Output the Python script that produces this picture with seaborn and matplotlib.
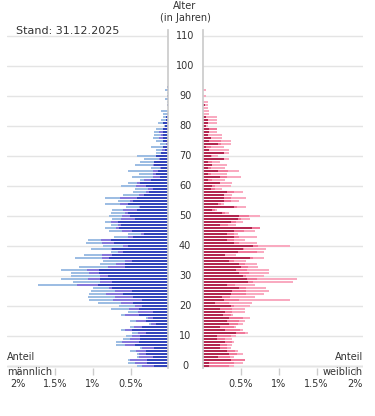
import matplotlib
matplotlib.use("Agg")
import matplotlib.pyplot as plt
import matplotlib.transforms as mtransforms
import seaborn as sns
import pandas as pd

sns.set_theme(style="white")
plt.rcParams['font.family'] = ['DejaVu Sans']

# ---------------- data (share in % per single year of age) ----------------
# male: inner (dark), middle (cumulative), outer/total (cumulative)
male_inner = [
    0.19, 0.28, 0.28, 0.20, 0.29, 0.29, 0.19, 0.44, 0.39, 0.37,
    0.37, 0.29, 0.48, 0.35, 0.16, 0.29, 0.20, 0.39, 0.20, 0.39,
    0.35, 0.47, 0.35, 0.47, 0.60, 0.48, 0.75, 0.93, 0.75, 0.91,
    0.80, 0.92, 0.92, 0.57, 0.57, 0.48, 0.79, 0.75, 0.60, 0.75,
    0.53, 0.72, 0.76, 0.47, 0.32, 0.48, 0.65, 0.63, 0.67, 0.44,
    0.51, 0.53, 0.41, 0.37, 0.53, 0.47, 0.41, 0.32, 0.25, 0.20,
    0.29, 0.37, 0.23, 0.11, 0.16, 0.13, 0.09, 0.19, 0.19, 0.11,
    0.16, 0.09, 0.04, 0.07, 0.01, 0.07, 0.07, 0.07, 0.07, 0.07,
    0.04, 0.07, 0.03, 0.03, 0.01, 0.00, 0.00, 0.01, 0.00, 0.01,
    0.01, 0.00, 0.01, 0.01, 0.00, 0.00]
male_middle = [
    0.35, 0.44, 0.51, 0.39, 0.39, 0.43, 0.35, 0.57, 0.61, 0.51,
    0.48, 0.40, 0.57, 0.45, 0.23, 0.43, 0.27, 0.57, 0.40, 0.52,
    0.44, 0.63, 0.73, 0.71, 0.83, 0.71, 0.79, 1.21, 0.91, 1.07,
    0.91, 1.05, 1.08, 0.80, 0.69, 0.57, 0.88, 0.88, 0.67, 0.76,
    0.60, 0.88, 0.89, 0.53, 0.36, 0.61, 0.69, 0.67, 0.76, 0.63,
    0.61, 0.57, 0.60, 0.39, 0.64, 0.51, 0.64, 0.39, 0.29, 0.27,
    0.43, 0.41, 0.32, 0.20, 0.20, 0.20, 0.11, 0.20, 0.19, 0.12,
    0.16, 0.09, 0.08, 0.07, 0.03, 0.07, 0.12, 0.09, 0.12, 0.07,
    0.04, 0.07, 0.03, 0.03, 0.01, 0.00, 0.00, 0.01, 0.00, 0.01,
    0.01, 0.00, 0.01, 0.01, 0.00, 0.00]
male_total = [
    0.41, 0.53, 0.53, 0.41, 0.41, 0.51, 0.37, 0.69, 0.69, 0.60,
    0.56, 0.48, 0.63, 0.51, 0.25, 0.51, 0.29, 0.63, 0.53, 0.76,
    0.65, 0.93, 1.05, 1.07, 1.05, 1.03, 1.00, 1.73, 1.27, 1.43,
    1.29, 1.29, 1.43, 1.19, 0.91, 0.87, 1.24, 1.12, 0.76, 1.03,
    0.87, 1.09, 1.07, 0.72, 0.53, 0.79, 0.84, 0.76, 0.84, 0.75,
    0.79, 0.76, 0.75, 0.56, 0.84, 0.67, 0.84, 0.60, 0.47, 0.44,
    0.63, 0.53, 0.37, 0.48, 0.39, 0.53, 0.23, 0.44, 0.37, 0.32,
    0.41, 0.16, 0.16, 0.23, 0.11, 0.16, 0.20, 0.19, 0.19, 0.16,
    0.05, 0.13, 0.09, 0.07, 0.07, 0.09, 0.00, 0.01, 0.01, 0.04,
    0.01, 0.01, 0.04, 0.01, 0.00, 0.00]

# female: inner (dark), middle (cumulative), outer/total (cumulative)
female_inner = [
    0.09, 0.09, 0.37, 0.20, 0.35, 0.32, 0.23, 0.23, 0.29, 0.19,
    0.19, 0.44, 0.29, 0.23, 0.35, 0.32, 0.35, 0.27, 0.29, 0.23,
    0.37, 0.16, 0.28, 0.25, 0.37, 0.39, 0.48, 0.32, 0.60, 0.59,
    0.53, 0.48, 0.44, 0.51, 0.48, 0.35, 0.63, 0.29, 0.47, 0.53,
    0.67, 0.41, 0.32, 0.41, 0.32, 0.41, 0.65, 0.23, 0.37, 0.47,
    0.48, 0.25, 0.13, 0.41, 0.20, 0.28, 0.28, 0.28, 0.32, 0.11,
    0.13, 0.23, 0.07, 0.23, 0.07, 0.20, 0.07, 0.13, 0.07, 0.28,
    0.11, 0.28, 0.09, 0.04, 0.20, 0.09, 0.11, 0.07, 0.09, 0.09,
    0.04, 0.07, 0.07, 0.04, 0.00, 0.00, 0.00, 0.03, 0.01, 0.00,
    0.00, 0.00, 0.00, 0.01, 0.00, 0.01]
female_middle = [
    0.35, 0.41, 0.56, 0.36, 0.45, 0.43, 0.32, 0.32, 0.39, 0.29,
    0.37, 0.56, 0.49, 0.41, 0.47, 0.48, 0.53, 0.37, 0.39, 0.39,
    0.41, 0.35, 0.48, 0.36, 0.57, 0.57, 0.57, 0.43, 0.67, 0.72,
    0.57, 0.61, 0.59, 0.60, 0.56, 0.41, 0.67, 0.29, 0.72, 0.55,
    0.73, 0.48, 0.41, 0.48, 0.41, 0.55, 0.76, 0.33, 0.44, 0.51,
    0.61, 0.29, 0.17, 0.45, 0.24, 0.37, 0.37, 0.28, 0.41, 0.17,
    0.17, 0.23, 0.13, 0.32, 0.11, 0.33, 0.11, 0.13, 0.13, 0.28,
    0.13, 0.28, 0.09, 0.11, 0.24, 0.24, 0.11, 0.07, 0.09, 0.19,
    0.04, 0.07, 0.07, 0.04, 0.00, 0.00, 0.00, 0.03, 0.01, 0.00,
    0.00, 0.00, 0.00, 0.01, 0.00, 0.01]
female_total = [
    0.41, 0.53, 0.56, 0.41, 0.53, 0.47, 0.37, 0.39, 0.41, 0.39,
    0.44, 0.60, 0.53, 0.44, 0.53, 0.56, 0.63, 0.40, 0.56, 0.56,
    0.63, 0.65, 1.15, 0.69, 0.81, 0.88, 0.84, 0.69, 1.19, 1.24,
    0.81, 0.88, 0.88, 0.73, 0.72, 0.57, 0.81, 0.44, 0.81, 0.84,
    1.15, 0.72, 0.56, 0.72, 0.47, 0.69, 0.76, 0.44, 0.53, 0.63,
    0.76, 0.35, 0.19, 0.57, 0.28, 0.48, 0.57, 0.39, 0.53, 0.25,
    0.37, 0.39, 0.29, 0.51, 0.32, 0.48, 0.29, 0.32, 0.23, 0.35,
    0.20, 0.35, 0.35, 0.28, 0.37, 0.37, 0.25, 0.25, 0.19, 0.19,
    0.07, 0.19, 0.19, 0.19, 0.09, 0.09, 0.07, 0.07, 0.07, 0.00,
    0.04, 0.00, 0.04, 0.01, 0.00, 0.01]

ages = list(range(len(male_total)))
age_ticks = [0, 10, 20, 30, 40, 50, 60, 70, 80, 90, 100, 110]
x_ticks = [0.5, 1, 1.5, 2]
x_tick_labels = ["0.5%", "1%", "1.5%", "2%"]

male_colors = ["#9dbde3", "#8577dc", "#3344bb"]
female_colors = ["#f9aac0", "#f0789a", "#b3264f"]

df_m = pd.DataFrame({"age": ages, "total": male_total,
                     "middle": male_middle, "inner": male_inner})
df_f = pd.DataFrame({"age": ages, "total": female_total,
                     "middle": female_middle, "inner": female_inner})

W, H = 375, 416
fig = plt.figure(figsize=(W / 100, H / 100), dpi=100)
fig.patch.set_facecolor("white")

y_top_px, y_bot_px = 30, 367.5
ax_b = (H - y_bot_px) / H
ax_h = (y_bot_px - y_top_px) / H
axL = fig.add_axes([7 / W, ax_b, 161 / W, ax_h])
axR = fig.add_axes([202.5 / W, ax_b, 160.5 / W, ax_h])

text_c = "#333333"
grid_c = "#e4e4e4"
line_c = "#cccccc"

for ax, df, cols in [(axL, df_m, male_colors), (axR, df_f, female_colors)]:
    for col, c in zip(["total", "middle", "inner"], cols):
        sns.barplot(data=df, x=col, y="age", orient="y", native_scale=True,
                    color=c, saturation=1, width=0.7, linewidth=0,
                    edgecolor="none", errorbar=None, ax=ax)
    ax.set_ylim(-0.5, 112)
    ax.set_yticks(age_ticks)
    ax.yaxis.grid(True, color=grid_c, lw=1)
    ax.xaxis.grid(False)
    ax.set_axisbelow(True)
    ax.axhline(0, color=line_c, lw=1, zorder=0.5)
    ax.tick_params(axis="y", length=0, labelleft=False, labelright=False)
    ax.set_xticks(x_ticks)
    ax.set_xticklabels(x_tick_labels)
    ax.tick_params(axis="x", bottom=True, length=5, width=1, color=line_c,
                   labelsize=7, labelcolor=text_c, pad=3)
    ax.set_xlabel("")
    ax.set_ylabel("")
    for s in ax.spines.values():
        s.set_visible(False)
    ax.set_facecolor("none")

axL.set_xlim(161 / 75, 0)
axR.set_xlim(0, 160.5 / 76)
axL.spines["right"].set_visible(True)
axL.spines["right"].set_color(line_c)
axR.spines["left"].set_visible(True)
axR.spines["left"].set_color(line_c)

# age labels in the middle column
tr = mtransforms.blended_transform_factory(fig.transFigure, axL.transData)
for a in age_ticks:
    axL.text(185 / W, a, str(a), transform=tr, ha="center", va="center",
             fontsize=7, color=text_c, clip_on=False)

fig.text(185 / W, 1 - 6 / H, "Alter", ha="center", va="center",
         fontsize=7, color=text_c)
fig.text(185 / W, 1 - 18 / H, "(in Jahren)", ha="center", va="center",
         fontsize=7, color=text_c)
fig.text(15.5 / W, 1 - 30.5 / H, "Stand: 31.12.2025", ha="left",
         va="center", fontsize=8, color=text_c)
fig.text(7 / W, 1 - 357.5 / H, "Anteil", ha="left", va="center",
         fontsize=7, color=text_c)
fig.text(7 / W, 1 - 372 / H, "männlich", ha="left", va="center",
         fontsize=7, color=text_c)
fig.text(363 / W, 1 - 357.5 / H, "Anteil", ha="right", va="center",
         fontsize=7, color=text_c)
fig.text(363 / W, 1 - 372 / H, "weiblich", ha="right", va="center",
         fontsize=7, color=text_c)

fig.savefig("out.png", dpi=100, facecolor="white")
